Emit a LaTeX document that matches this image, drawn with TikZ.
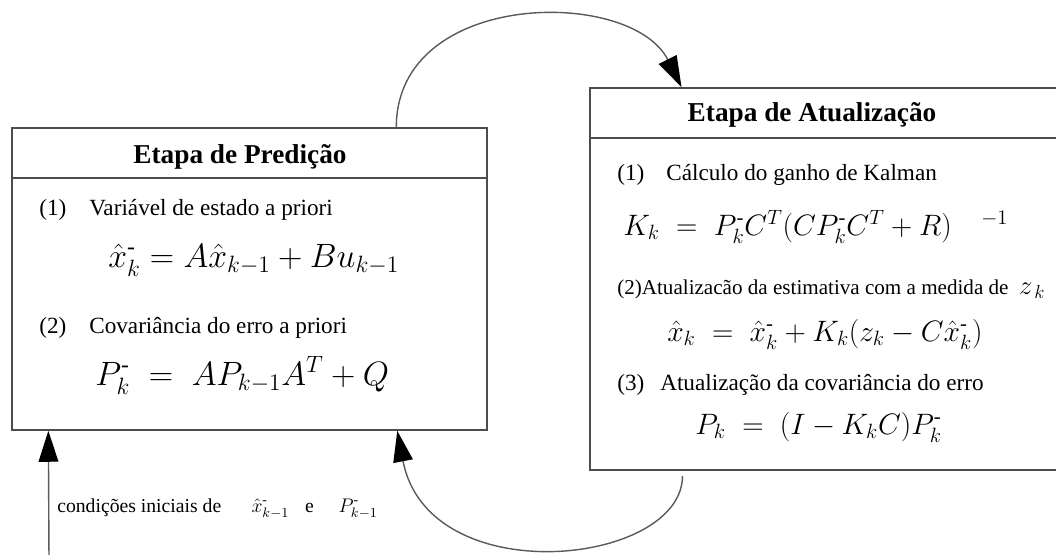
\RequirePackage{fix-cm}
\documentclass[tikz,border=0pt]{standalone}
\usepackage{amsmath}
\usepackage{fontspec}
\setmainfont{Liberation Serif}
\usetikzlibrary{arrows.meta, calc}
\definecolor{bGray}{HTML}{4D4D4D}
\definecolor{aGray}{HTML}{5A5A5A}
\newcommand{\mn}{\text{-}}

\begin{document}
\begin{tikzpicture}[x=0.025cm, y=-0.025cm,
    frame/.style={draw=bGray, line width=1.1pt, inner sep=0pt},
    ttl/.style={font=\fontsize{19.4}{23}\selectfont\bfseries, anchor=base, inner sep=0pt},
    txt/.style={font=\fontsize{16.5}{20}\selectfont, anchor=base west, inner sep=0pt},
    txtsm/.style={font=\fontsize{15}{18}\selectfont, anchor=base west, inner sep=0pt},
    eqL/.style={font=\fontsize{24}{28}\selectfont, anchor=base west, inner sep=0pt},
    eqR/.style={font=\fontsize{21}{25}\selectfont, anchor=base west, inner sep=0pt},
    note/.style={font=\fontsize{14}{17}\selectfont, anchor=base west, inner sep=0pt},
    link/.style={draw=aGray, line width=1pt, -{Triangle[length=22pt,width=14pt,color=black]}}]
  \useasboundingbox (0,0) rectangle (1056,554);

  % caixas
  \node[frame, minimum width=11.875cm, minimum height=7.55cm] (pred) at (249.5,279) {};
  \node[frame, minimum width=11.8cm, minimum height=9.55cm] (atual) at (826,279) {};
  \draw[frame] ([yshift=-1.275cm]pred.north west) -- ([yshift=-1.275cm]pred.north east);
  \draw[frame] ([yshift=-1.275cm]atual.north west) -- ([yshift=-1.275cm]atual.north east);

  % etapa de predicao
  \node[ttl] (predT) at (240,163) {Etapa de Predição};
  \node[txt] (predN1) at (39,215) {(1)};
  \node[txt] (predL1) at (89,215) {Variável de estado a priori};
  \node[eqL] (predE1) at (108,267) {$\hat{x}^{\mn}_k = A\hat{x}_{k-1} + Bu_{k-1}$};
  \node[txt] (predN2) at (39,333) {(2)};
  \node[txt] (predL2) at (89,333) {Covariância do erro a priori};
  \node[eqL] (predE2) at (95,385) {$P^{\mn}_k \;=\; AP_{k-1}A^T + Q$};

  % etapa de atualizacao
  \node[ttl] (atualT) at (812,121) {Etapa de Atualização};
  \node[txt] (atualN1) at (617,180) {(1)};
  \node[txt] (atualL1) at (666,180) {Cálculo do ganho de Kalman};
  \node[eqR] (atualE1) at (623,235) {$K_k \;=\; P^{\mn}_kC^T(CP^{\mn}_kC^T + R)\quad{}^{-1}$};
  \node[txtsm] (atualL2) at (617,294) {(2)Atualizacão da estimativa com a medida de \ {\fontsize{19}{22}\selectfont$z_{\,k}$}};
  \node[eqR] (atualE2) at (667,341) {$\hat{x}_k \;=\; \hat{x}^{\mn}_k + K_k(z_k - C\hat{x}^{\mn}_k)$};
  \node[txt] (atualN3) at (617,390) {(3)};
  \node[txt] (atualL3) at (660,390) {Atualização da covariância do erro};
  \node[eqR] (atualE3) at (695,434) {$P_k \;=\; (I - K_kC)P^{\mn}_k$};

  \node[note] (cond) at (57,512) {condições iniciais de \hspace{18pt}$\hat{x}^{\mn}_{k-1}$\hspace{8pt} e \hspace{14pt}$P^{\mn}_{k-1}$};

  % ligacoes
  \coordinate (predA) at ($(pred.north west)!0.808!(pred.north east)$);
  \coordinate (atualA) at ($(atual.north west)!0.195!(atual.north east)$);
  \coordinate (atualB) at ($(atual.south west)!0.197!(atual.south east) + (0,5)$);
  \coordinate (predB) at ($(pred.south west)!0.81!(pred.south east)$);
  \coordinate (predC) at ($(pred.south west)!0.078!(pred.south east)$);
  \coordinate (inB) at (49,560);
  \draw[link] (predA) .. controls +(0,-138) and +(-50,-100) .. (atualA);
  \draw[link] (atualB) .. controls +(0,90) and +(31,162) .. (predB);
  \draw[link] (inB) -- (predC);
\end{tikzpicture}
\end{document}
